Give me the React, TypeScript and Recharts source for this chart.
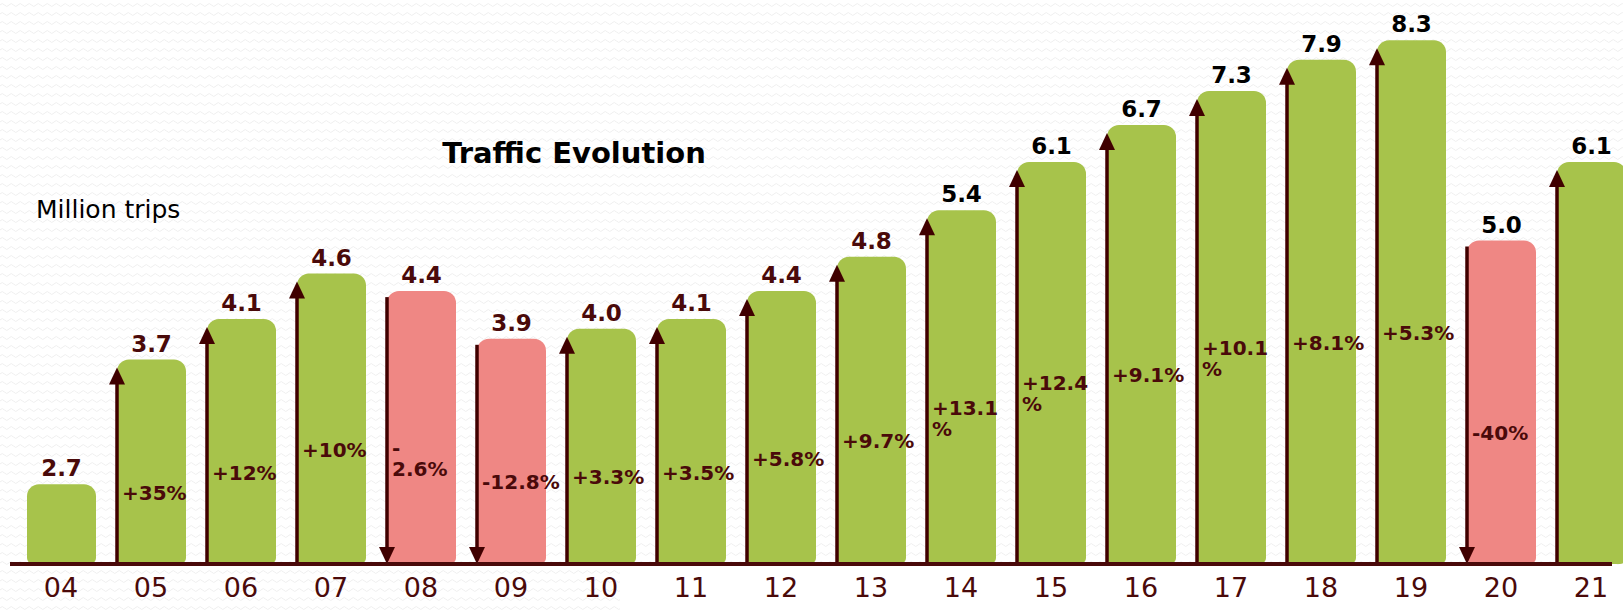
import React from 'react';
import { BarChart, Bar, XAxis, YAxis } from 'recharts';

const years = ['04', '05', '06', '07', '08', '09', '10', '11', '12', '13', '14', '15', '16', '17', '18', '19', '20', '21'];
const trips = [2.7, 3.7, 4.1, 4.6, 4.4, 3.9, 4.0, 4.1, 4.4, 4.8, 5.4, 6.1, 6.7, 7.3, 7.9, 8.3, 5.0, 6.1];
const changes = ['', '+35%', '+12%', '+10%', '-\n2.6%', '-12.8%', '+3.3%', '+3.5%', '+5.8%', '+9.7%', '+13.1\n%', '+12.4\n%', '+9.1%', '+10.1\n%', '+8.1%', '+5.3%', '-40%', ''];

const title = 'Traffic Evolution';
const unitLabel = 'Million trips';

const data = years.map((y, i) => ({ year: y, trips: trips[i], change: changes[i] }));

const GREEN = '#a7c34b';
const PINK = '#ef8784';
const BROWN = '#4a0a0a';
const ARROW = '#400000';
const BOLD = '"DejaVu Sans", Verdana, sans-serif';

const BarShape = (props: any) => {
  const { x, y, width, height, index } = props;
  const v = trips[index];
  const dir = index === 0 ? 0 : v > trips[index - 1] ? 1 : -1;
  const fill = dir < 0 ? PINK : GREEN;
  const bottom = y + height;
  const rt = 12;
  const rb = 6;
  const w = width;
  const d = `M${x},${bottom - rb} L${x},${y + rt} A${rt},${rt} 0 0 1 ${x + rt},${y} L${x + w - rt},${y} A${rt},${rt} 0 0 1 ${x + w},${y + rt} L${x + w},${bottom - rb} A${rb},${rb} 0 0 1 ${x + w - rb},${bottom} L${x + rb},${bottom} A${rb},${rb} 0 0 1 ${x},${bottom - rb} Z`;
  const ax = x;
  const lines = (changes[index] || '').split('\n').filter((s) => s.length > 0);
  const center = y + height / 2 + 31;
  const firstBase = center + 7 - (lines.length - 1) * 10.5;
  return (
    <g>
      <path d={d} fill={fill} />
      {dir > 0 && (
        <g>
          <line x1={ax} y1={bottom} x2={ax} y2={y + 22} stroke={ARROW} strokeWidth={3.5} />
          <polygon points={`${ax - 8},${y + 25} ${ax + 8},${y + 25} ${ax},${y + 8}`} fill={ARROW} />
        </g>
      )}
      {dir < 0 && (
        <g>
          <line x1={ax} y1={y + 6} x2={ax} y2={bottom - 14} stroke={ARROW} strokeWidth={3.5} />
          <polygon points={`${ax - 8},${bottom - 17} ${ax + 8},${bottom - 17} ${ax},${bottom}`} fill={ARROW} />
        </g>
      )}
      {lines.length > 0 && (
        <text x={x + 5} y={firstBase} fill={BROWN} fontFamily={BOLD} fontWeight="bold" fontSize={20}>
          {lines.map((s, i) => (
            <tspan key={i} x={x + 5} dy={i === 0 ? 0 : 21}>
              {s}
            </tspan>
          ))}
        </text>
      )}
      <text
        x={x + width / 2}
        y={y - 8}
        textAnchor="middle"
        fill={index >= 10 ? '#000000' : BROWN}
        fontFamily={BOLD}
        fontWeight="bold"
        fontSize={23}
      >
        {v.toFixed(1)}
      </text>
    </g>
  );
};

const Tick = (props: any) => {
  const { x, y, payload } = props;
  return (
    <text x={x} y={y + 33} textAnchor="middle" fill={BROWN} fontFamily={BOLD} fontSize={27}>
      {payload.value}
    </text>
  );
};

const pattern =
  "url(\"data:image/svg+xml;utf8,<svg xmlns='http://www.w3.org/2000/svg' width='9' height='9'><path d='M0 5 Q2.25 2 4.5 5 T9 5' fill='none' stroke='%23efefef' stroke-width='1'/></svg>\")";

export default function App() {
  return (
    <div
      style={{
        position: 'absolute',
        left: 0,
        top: 0,
        width: 1623,
        height: 612,
        overflow: 'hidden',
        backgroundColor: '#ffffff',
        backgroundImage: pattern,
      }}
    >
      <div style={{ position: 'absolute', left: 620, top: 568, width: 1003, height: 44, background: '#ffffff' }} />
      <div style={{ position: 'absolute', left: 0, top: 0 }}>
        <BarChart width={1623} height={612} data={data} margin={{ top: 0, right: 11, bottom: 0, left: 10 }}>
          <XAxis
            dataKey="year"
            height={48}
            tickLine={false}
            tickSize={0}
            tickMargin={0}
            interval={0}
            axisLine={{ stroke: BROWN, strokeWidth: 4 }}
            padding={{ left: 6, right: -24 }}
            tick={<Tick />}
          />
          <YAxis hide type="number" scale="log" domain={[2.206, 9.19]} allowDataOverflow />
          <Bar dataKey="trips" barSize={69} isAnimationActive={false} shape={<BarShape />} />
        </BarChart>
      </div>
      <svg width={1623} height={612} style={{ position: 'absolute', left: 0, top: 0, pointerEvents: 'none' }}>
        <text x={574} y={163} textAnchor="middle" fill="#000000" fontFamily={BOLD} fontWeight="bold" fontSize={29}>
          {title}
        </text>
        <text x={36} y={218} fill="#000000" fontFamily={BOLD} fontSize={25}>
          {unitLabel}
        </text>
      </svg>
    </div>
  );
}
